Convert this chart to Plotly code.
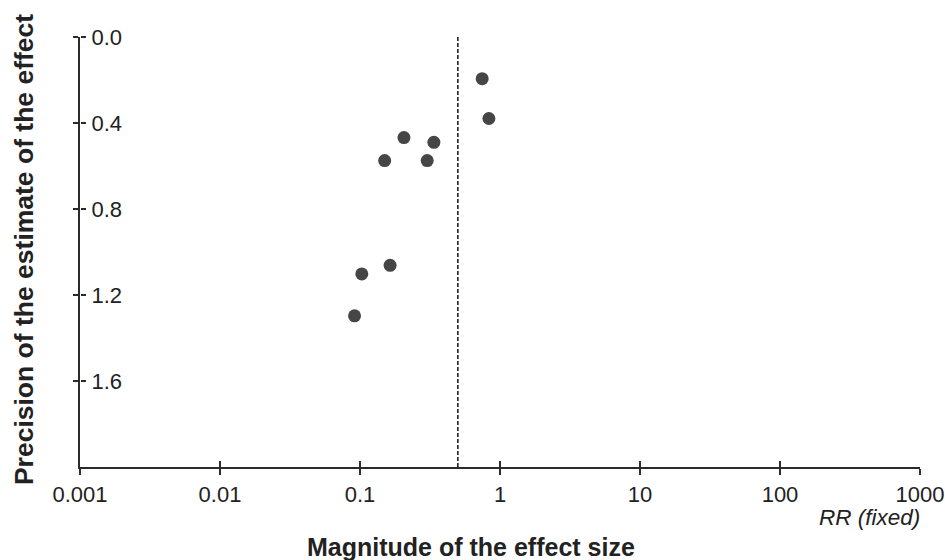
import plotly.graph_objects as go

# Data
rr_values = [0.746, 0.833, 0.206, 0.337, 0.150, 0.302, 0.164, 0.103, 0.0914]
precision = [0.194, 0.379, 0.468, 0.490, 0.575, 0.575, 1.062, 1.102, 1.297]
ref_rr = 0.5
ref_line_y = [0.0, 2.0]

x_tickvals = [0.001, 0.01, 0.1, 1, 10, 100, 1000]
x_ticktext = ["0.001", "0.01", "0.1", "1", "10", "100", "1000"]
y_tickvals = [0.0, 0.4, 0.8, 1.2, 1.6]
y_ticktext = ["0.0", "0.4", "0.8", "1.2", "1.6"]

FONT = "Liberation Sans, Arial, Helvetica, sans-serif"
AX = "#2b2b2b"
TXT = "#222222"

fig = go.Figure()

# dashed reference line (on overlay axes so they get drawn)
fig.add_trace(go.Scatter(
    x=[ref_rr, ref_rr], y=ref_line_y, mode="lines",
    line=dict(color="#111111", width=1.5, dash="4px,2px"),
    xaxis="x2", yaxis="y2", showlegend=False, hoverinfo="skip"))

fig.add_trace(go.Scatter(
    x=rr_values, y=precision, mode="markers",
    marker=dict(size=13, color="#464646", line=dict(width=0)),
    showlegend=False))

common_x = dict(type="log", range=[-3, 3], tickvals=x_tickvals,
                showgrid=False, zeroline=False, fixedrange=True,
                automargin=False)
common_y = dict(range=[2.0, 0.0], tickvals=y_tickvals,
                showgrid=False, zeroline=False, fixedrange=True,
                automargin=False)

fig.update_layout(
    width=945, height=560,
    margin=dict(l=80, r=25, t=37, b=93, pad=0),
    paper_bgcolor="white", plot_bgcolor="white",
    font=dict(family=FONT, color=TXT, size=22),
    xaxis=dict(**common_x, ticktext=x_ticktext, ticks="outside", ticklen=6,
               tickwidth=1.6, tickcolor=AX, showline=True, linewidth=2.2,
               linecolor=AX, tickfont=dict(size=22, color=TXT),
               anchor="y"),
    yaxis=dict(**common_y, ticks="outside", ticklen=5,
               tickwidth=1.6, tickcolor=AX, showline=True, linewidth=2.2,
               linecolor=AX, showticklabels=False, side="left",
               anchor="x"),
    xaxis2=dict(**common_x, overlaying="x", anchor="y", side="bottom",
                ticks="inside", ticklen=6, tickwidth=1.6, tickcolor=AX,
                showticklabels=False, showline=False),
    yaxis2=dict(**common_y, ticktext=y_ticktext, overlaying="y",
                anchor="free", position=0, side="right",
                ticks="outside", ticklen=5, tickwidth=1.6, tickcolor=AX,
                showticklabels=True, showline=False,
                tickfont=dict(size=22, color=TXT), ticklabelstandoff=1),
    annotations=[
        dict(text="<b>Precision of the estimate of the effect</b>",
             xref="paper", yref="paper", x=-0.0664, y=0.505,
             xanchor="center", yanchor="middle", textangle=-90,
             showarrow=False, font=dict(size=26.5, color=TXT, family=FONT)),
        dict(text="<b>Magnitude of the effect size</b>",
             xref="paper", yref="paper", x=0.466, y=-0.185,
             xanchor="center", yanchor="middle",
             showarrow=False, font=dict(size=25, color=TXT, family=FONT)),
        dict(text="<i>RR (fixed)</i>",
             xref="paper", yref="paper", x=1.0024, y=-0.117,
             xanchor="right", yanchor="middle",
             showarrow=False, font=dict(size=22.5, color=TXT, family=FONT)),
    ],
)

fig.write_html(
    "out.html",
    config={"displayModeBar": False},
    post_script="document.body.style.margin='0';document.body.style.overflow='hidden';",
)
